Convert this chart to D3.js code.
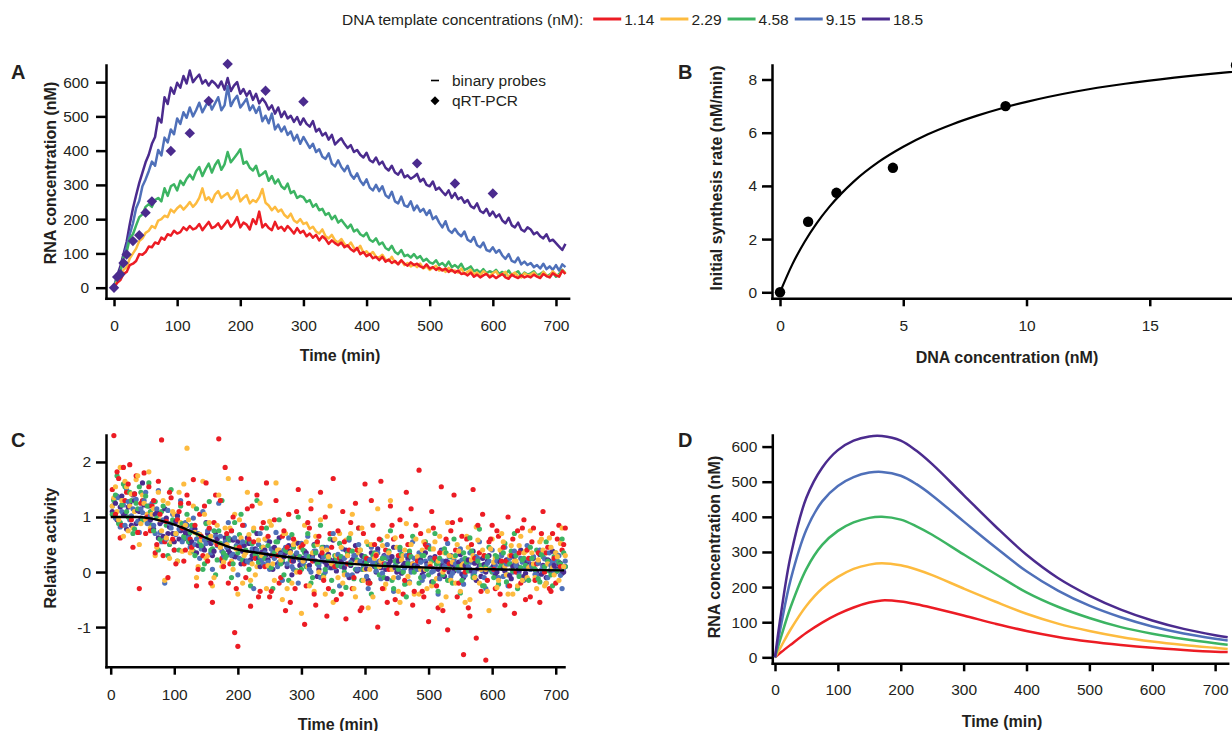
<!DOCTYPE html>
<html>
<head>
<meta charset="utf-8">
<script src="https://cdn.jsdelivr.net/npm/d3@7"></script>
<style>
  body { margin: 0; background: #fff; }
  svg { display: block; font-family: "Liberation Sans", Arial, Helvetica, sans-serif; }
  .axis path, .axis line { stroke: #000; stroke-width: 2.5; }
  .axis path { stroke-linecap: square; }
  .axis text { font-size: 15.5px; fill: #231f20; }
  .title { font-size: 16px; font-weight: bold; fill: #231f20; }
  .plabel { font-size: 20px; font-weight: bold; fill: #231f20; }
  .ltext { font-size: 15.5px; fill: #231f20; }
</style>
</head>
<body>
<svg id="fig" width="1232" height="731"></svg>
<script>
// DNA template concentrations and their colours
const concLabels = ["1.14", "2.29", "4.58", "9.15", "18.5"];
const colors = ["#ec1c24", "#fdbb3f", "#3cb462", "#4f70b9", "#4b2b8e"];

// ---- panel A: binary probe traces, every 5 min ----
const timesA = d3.range(0, 720, 5);
const rnaA_114 = [
  0, 14, 22, 40, 46, 66, 70, 78, 98, 96, 104, 120,
  118, 132, 128, 146, 140, 156, 152, 166, 158, 162, 176, 168,
  180, 170, 174, 186, 168, 180, 192, 174, 178, 188, 172, 184,
  196, 178, 188, 206, 176, 190, 184, 170, 200, 186, 222, 176,
  186, 174, 168, 192, 172, 178, 166, 180, 170, 158, 174, 160,
  166, 150, 158, 146, 154, 138, 150, 142, 128, 138, 130, 124,
  132, 118, 124, 112, 106, 116, 98, 104, 92, 98, 86, 90,
  80, 90, 76, 82, 72, 78, 68, 80, 70, 64, 74, 66,
  70, 62, 58, 68, 56, 60, 52, 58, 50, 56, 46, 52,
  44, 50, 40, 42, 36, 44, 32, 38, 30, 36, 40, 30,
  36, 28, 34, 40, 30, 26, 38, 32, 28, 36, 30, 34,
  30, 38, 32, 28, 40, 34, 30, 42, 36, 32, 50, 40];
const rnaA_229 = [
  0, 18, 30, 52, 60, 86, 100, 114, 136, 144, 160, 166,
  180, 174, 196, 200, 210, 206, 228, 220, 232, 240, 228, 238,
  250, 236, 246, 262, 290, 256, 264, 250, 272, 282, 262, 270,
  276, 258, 266, 284, 252, 262, 270, 246, 256, 250, 264, 288,
  248, 240, 226, 236, 222, 228, 212, 204, 216, 196, 190, 200,
  186, 190, 172, 178, 164, 158, 170, 150, 144, 154, 138, 132,
  142, 128, 120, 132, 116, 110, 122, 102, 106, 96, 104, 90,
  88, 96, 82, 78, 90, 74, 70, 80, 66, 72, 62, 68,
  60, 70, 56, 62, 52, 58, 64, 50, 54, 46, 58, 48,
  50, 44, 56, 40, 46, 52, 38, 44, 36, 48, 40, 34,
  42, 48, 34, 40, 46, 32, 38, 44, 34, 30, 42, 36,
  38, 44, 34, 30, 46, 36, 32, 48, 38, 34, 50, 42];
const rnaA_458 = [
  0, 28, 46, 88, 104, 144, 156, 182, 206, 214, 236, 244,
  236, 256, 262, 252, 290, 268, 296, 302, 284, 312, 300, 318,
  330, 316, 340, 352, 326, 346, 362, 336, 358, 372, 344, 360,
  396, 366, 378, 390, 404, 362, 368, 350, 342, 356, 326, 332,
  340, 312, 326, 304, 316, 296, 288, 304, 276, 282, 262, 268,
  264, 250, 256, 236, 244, 226, 230, 212, 218, 200, 210, 190,
  198, 186, 174, 184, 164, 170, 156, 150, 160, 140, 134, 144,
  126, 132, 116, 110, 122, 104, 98, 110, 92, 96, 88, 98,
  86, 92, 78, 84, 74, 70, 80, 66, 72, 62, 76, 60,
  66, 58, 70, 52, 56, 62, 48, 52, 44, 54, 42, 48,
  44, 52, 40, 46, 38, 50, 36, 42, 48, 34, 44, 38,
  42, 48, 36, 40, 46, 34, 38, 44, 32, 40, 52, 42];
const rnaA_915 = [
  0, 32, 48, 88, 120, 156, 188, 232, 254, 296, 316, 340,
  368, 356, 402, 386, 438, 424, 462, 448, 494, 478, 512, 496,
  526, 500, 518, 540, 512, 530, 546, 520, 538, 556, 518, 532,
  588, 530, 548, 560, 526, 538, 552, 518, 532, 510, 528, 486,
  502, 480, 508, 462, 476, 456, 470, 446, 456, 430, 446, 420,
  440, 424, 408, 420, 396, 404, 382, 376, 392, 362, 354, 372,
  352, 340, 356, 330, 318, 334, 312, 300, 316, 292, 284, 300,
  282, 296, 270, 262, 280, 252, 246, 266, 240, 236, 252, 226,
  240, 222, 230, 212, 226, 200, 208, 190, 176, 194, 168, 160,
  172, 158, 150, 164, 140, 134, 148, 124, 118, 132, 110, 106,
  118, 102, 110, 94, 84, 98, 78, 74, 88, 68, 76, 66,
  72, 60, 66, 56, 70, 54, 62, 52, 66, 50, 68, 60];
const rnaA_185 = [
  0, 36, 62, 98, 134, 186, 232, 270, 306, 336, 366, 388,
  420, 440, 496, 482, 556, 536, 584, 566, 598, 584, 618, 596,
  634, 600, 612, 622, 596, 606, 590, 604, 596, 584, 602, 578,
  612, 574, 590, 600, 566, 580, 560, 574, 548, 566, 538, 552,
  540, 520, 532, 508, 526, 498, 514, 494, 502, 484, 498, 476,
  494, 478, 470, 486, 456, 464, 444, 452, 432, 446, 418, 428,
  436, 420, 408, 416, 396, 402, 388, 380, 394, 372, 366, 380,
  360, 368, 350, 342, 356, 336, 330, 344, 322, 328, 318, 324,
  332, 310, 318, 300, 296, 310, 286, 292, 280, 270, 284, 262,
  276, 258, 264, 248, 256, 238, 232, 246, 224, 218, 230, 210,
  222, 206, 214, 196, 188, 204, 182, 176, 190, 170, 164, 176,
  170, 156, 162, 150, 144, 156, 136, 140, 130, 120, 110, 128];
const seriesA = [rnaA_114, rnaA_229, rnaA_458, rnaA_915, rnaA_185];

// qRT-PCR, 18.5 nM template
const pcrTimes = [0, 5, 10, 15, 20, 30, 40, 50, 60, 90, 120, 150, 180, 240, 300, 480, 540, 600];
const pcrValues = [0, 31, 39, 72, 97, 136, 153, 219, 252, 399, 451, 545, 653, 575, 543, 363, 304, 275];

// ---- panel B: initial rates ----
const dnaConc = [0, 1.14, 2.29, 4.58, 9.15, 18.5];
const synthRate = [0, 2.65, 3.74, 4.68, 7.0, 8.54];
const fitConc = [0, 0.5, 1, 1.5, 2, 3, 4, 5, 6, 7, 8, 9, 10, 12, 14, 16, 18, 19.5];
const fitRate = [0, 1.05, 1.9, 2.61, 3.21, 4.17, 4.9, 5.47, 5.94, 6.32, 6.64, 6.92, 7.16, 7.55, 7.84, 8.07, 8.26, 8.38];

// ---- panel C: relative activity, two interleaved 5-min grids ----
const timesC = d3.range(5, 720, 5);
const timesC2 = d3.range(2.5, 715, 5);
const actC_185 = [
  1.32, 0.95, 1.18, 1.05, 0.78, 1.25, 1.40, 0.88, 1.10, 1.62, 0.98, 1.20,
  0.85, 1.05, 0.62, 0.92, 1.15, 0.70, 0.88, 0.55, 1.02, 0.75, 0.60, 0.85,
  0.52, 0.80, 0.35, 0.68, 0.45, 0.90, 0.58, 0.30, 0.72, 0.48, 0.20, 0.62,
  0.40, 0.75, 0.28, 0.55, 0.15, 0.48, 0.62, 0.22, 0.38, 0.70, 0.10, 0.45,
  0.32, 0.55, 0.05, 0.40, 0.62, 0.18, 0.35, 0.48, -0.05, 0.28, 0.52, 0.15,
  0.38, 0.10, 0.25, 0.50, -0.08, 0.30, 0.45, 0.12, 0.22, 0.58, 0.02, 0.28,
  0.15, 0.40, -0.10, 0.22, 0.48, 0.05, 0.30, 0.18, -0.15, 0.35, 0.10, 0.42,
  0.08, 0.30, -0.12, 0.20, 0.45, 0.00, 0.25, 0.12, -0.20, 0.32, 0.15, 0.05,
  0.22, -0.05, 0.35, 0.10, -0.18, 0.28, 0.05, 0.40, -0.08, 0.18, 0.30, 0.02,
  0.15, 0.32, -0.10, 0.20, 0.05, 0.38, -0.15, 0.12, 0.25, 0.00, 0.30, 0.08,
  -0.05, 0.22, 0.35, 0.02, 0.15, -0.12, 0.28, 0.10, 0.40, -0.08, 0.18, 0.05,
  0.25, 0.00, 0.32, 0.12, -0.10, 0.20, 0.38, 0.05, 0.15, -0.02, 0.10];
const actC_915 = [
  1.05, 1.38, 0.82, 1.22, 1.50, 0.95, 1.15, 1.32, 0.72, 1.08, 1.45, 0.90,
  1.25, 0.70, 1.48, 0.55, -0.20, 1.12, 0.80, 0.40, 0.95, 1.30, 0.62, 0.85,
  0.45, 0.98, 0.60, 0.25, 1.10, 0.52, 0.78, 0.05, 0.65, 1.25, 0.38, 0.55,
  0.90, 0.30, 0.62, -0.05, 0.48, 0.85, 0.20, 0.55, -0.30, 0.40, 0.70, 0.15,
  0.58, 0.05, 0.35, 0.72, 0.18, -0.15, 0.45, 0.62, 0.10, 0.30, -0.20, 0.52,
  0.20, 0.65, 0.00, 0.38, 0.55, -0.10, 0.28, 0.45, 0.08, 0.70, 0.12, -0.25,
  0.42, 0.15, 0.58, -0.05, 0.30, 0.50, 0.05, 0.25, -0.30, 0.45, 0.18, 0.35,
  -0.12, 0.28, 0.50, 0.08, -0.35, 0.22, 0.40, 0.02, 0.30, -0.18, 0.55, 0.12,
  0.35, -0.15, 0.20, 0.48, 0.00, 0.25, -0.40, 0.38, 0.10, 0.52, -0.08, 0.22,
  0.08, 0.42, -0.22, 0.18, 0.35, -0.05, 0.28, 0.55, 0.02, -0.30, 0.20, 0.40,
  0.12, -0.10, 0.30, 0.45, -0.25, 0.15, 0.38, 0.00, 0.25, -0.15, 0.48, 0.05,
  0.28, -0.05, 0.40, 0.10, -0.20, 0.35, 0.18, 0.00, 0.30, -0.30, 0.20];
const actC_458 = [
  1.30, 1.75, 0.90, 1.60, 1.10, 1.45, 0.70, 1.25, 1.55, 0.95, 1.38, 1.62,
  0.85, 1.28, 0.40, 1.10, 0.58, 0.30, 1.50, 0.92, 0.20, 1.20, 0.65, 1.05,
  0.72, 0.38, 1.15, 0.55, 0.05, 0.88, 1.28, 0.42, -0.05, 0.75, 1.30, 0.25,
  0.62, -0.10, 0.90, 0.35, 1.05, 0.18, 0.55, -0.25, 0.75, 1.30, 0.28, 0.45,
  0.80, 0.10, -0.30, 0.55, 0.95, 0.22, 0.40, -0.15, 0.68, 0.30, 1.00, 0.05,
  0.35, 0.70, -0.20, 0.48, 0.15, 0.85, -0.05, 0.30, 0.60, -0.35, 0.25, 0.52,
  0.10, -0.28, 0.62, 0.38, 0.05, 0.80, -0.15, 0.28, 0.50, -0.40, 0.35, 0.15,
  0.58, -0.10, 0.25, 0.75, -0.30, 0.18, 0.45, 0.00, -0.45, 0.38, 0.65, 0.08,
  -0.20, 0.30, 0.55, -0.05, 0.20, 0.70, -0.35, 0.12, 0.42, -0.15, 0.28, 0.60,
  0.05, -0.38, 0.35, 0.18, 0.62, -0.10, 0.25, 0.78, -0.25, 0.10, 0.45, 0.00,
  0.30, -0.22, 0.15, 0.52, -0.05, 0.38, 0.70, -0.30, 0.08, 0.25, -0.12, 0.45,
  0.12, 0.40, -0.18, 0.28, 0.55, 0.02, -0.25, 0.35, 0.18, 0.60, 0.10];
const actC_229 = [
  1.35, 1.10, 1.90, 0.65, 1.55, 1.20, 0.80, 1.68, 0.50, 1.40, 0.95, 1.82,
  1.05, 0.30, 1.45, 0.75, -0.15, 1.25, 0.55, 1.05, 0.20, 0.90, 1.60, 2.25,
  0.35, 1.20, -0.10, 0.68, 1.65, 0.25, 0.90, -0.25, 0.55, 1.40, 0.10, 0.80,
  1.70, 0.20, 1.05, -0.40, 0.62, 0.30, 1.45, -0.15, 0.80, 0.10, 1.25, 0.45,
  -0.30, 0.92, 0.15, 1.62, 0.40, -0.50, 0.70, 1.05, -0.20, 0.55, 0.25, -0.75,
  0.85, 0.10, 1.30, -0.35, 0.50, 0.95, -0.10, 0.40, 1.20, -0.55, 0.30, 0.70,
  -0.20, 0.58, 0.15, 1.05, -0.45, 0.35, 0.80, 0.05, -0.65, 0.50, 0.25, 1.15,
  0.20, -0.30, 0.65, 1.30, -0.10, 0.45, -0.55, 0.30, 0.88, -0.20, 0.15, 0.60,
  -0.40, 0.40, 0.05, 0.75, -0.25, 0.55, 0.20, -0.60, 0.35, 0.90, -0.15, 0.28,
  0.50, -0.35, 0.15, 0.65, -0.50, 0.30, 0.82, -0.20, 0.40, 0.05, -0.70, 0.60,
  0.25, -0.15, 0.70, 0.10, -0.40, 0.48, 0.20, -0.25, 0.65, 0.35, -0.10, 0.75,
  0.15, -0.30, 0.55, 0.40, -0.20, 0.62, 0.08, 0.35, -0.15, 0.80, 0.30];
const actC_114 = [
  2.48, 1.82, 0.62, 1.90, 1.45, 1.95, 0.45, 1.75, -0.30, 1.30, 0.70, 1.55,
  1.20, 0.35, 1.65, 2.40, 0.55, -0.10, 1.35, 0.40, 0.95, 1.25, 0.20, 1.40,
  0.60, 1.68, -0.25, 1.05, 0.30, 1.62, 0.80, -0.55, 1.40, 2.42, 0.25, 1.90,
  -0.20, 0.75, -1.10, -1.35, 1.70, 0.15, 1.15, -0.62, 0.55, 1.40, -0.35, 0.90,
  1.62, -0.45, 0.30, 1.30, -0.20, 0.65, -0.70, 1.05, 0.20, -0.30, 1.50, 0.45,
  -0.95, 0.90, 1.15, -0.40, 0.55, 1.45, -0.15, -0.80, 0.70, 1.70, -0.50, 0.25,
  1.10, -0.85, 0.40, -0.30, 1.25, 0.80, -0.65, 1.60, -0.20, 1.30, 0.50, -1.00,
  1.65, 0.15, -0.55, 1.20, 0.60, -0.75, 0.95, -0.40, 1.45, 0.30, -0.60, 0.85,
  1.85, -0.35, 0.50, -0.90, 1.10, 0.25, -0.65, 1.55, 0.05, -1.05, 0.75, 1.40,
  -0.45, 0.95, -1.50, 0.60, -0.80, 1.50, -1.20, 0.35, 1.05, -1.60, 0.55, 0.85,
  -0.30, 0.65, 0.20, -0.60, 1.00, 0.30, -0.75, 0.75, -0.20, 0.95, 0.40, -0.45,
  0.80, 0.15, -0.55, 1.10, 0.35, -0.30, 0.70, -0.20, 0.85, 0.40, 0.80];
const actC2_185 = [
  1.10, 1.25, 0.92, 1.38, 1.05, 1.18, 0.85, 1.30, 1.12, 0.98, 1.22, 1.05,
  0.95, 0.78, 1.08, 0.88, 0.65, 0.98, 0.82, 0.70, 0.92, 0.60, 0.80, 0.72,
  0.68, 0.55, 0.78, 0.48, 0.62, 0.40, 0.70, 0.52, 0.38, 0.60, 0.45, 0.32,
  0.50, 0.35, 0.58, 0.28, 0.45, 0.38, 0.20, 0.52, 0.30, 0.42, 0.25, 0.36,
  0.40, 0.22, 0.30, 0.45, 0.15, 0.35, 0.28, 0.10, 0.38, 0.20, 0.32, 0.12,
  0.25, 0.35, 0.12, 0.30, 0.20, 0.05, 0.28, 0.18, 0.32, 0.08, 0.22, 0.15,
  0.20, 0.08, 0.30, 0.12, 0.25, 0.02, 0.18, 0.28, 0.06, 0.22, 0.14, 0.00,
  0.18, 0.25, 0.05, 0.15, 0.28, 0.08, 0.20, -0.02, 0.16, 0.24, 0.04, 0.12,
  0.10, 0.22, 0.02, 0.15, 0.26, 0.06, 0.18, -0.05, 0.12, 0.20, 0.00, 0.14,
  0.08, 0.18, -0.04, 0.12, 0.22, 0.02, 0.16, 0.06, -0.08, 0.14, 0.20, 0.04,
  0.12, 0.00, 0.18, 0.06, 0.22, -0.06, 0.10, 0.16, 0.02, 0.20, -0.02, 0.08,
  0.14, 0.04, 0.18, -0.04, 0.10, 0.22, 0.02, 0.12, 0.06, 0.16, 0.00];
const actC2_915 = [
  1.20, 0.98, 1.35, 1.10, 0.85, 1.28, 1.02, 1.42, 0.92, 1.15, 1.30, 0.88,
  1.02, 0.85, 1.15, 0.72, 0.95, 0.60, 0.88, 1.05, 0.68, 0.78, 0.55, 0.90,
  0.62, 0.78, 0.50, 0.70, 0.42, 0.58, 0.75, 0.35, 0.55, 0.48, 0.65, 0.30,
  0.45, 0.60, 0.32, 0.48, 0.25, 0.55, 0.38, 0.18, 0.42, 0.30, 0.50, 0.22,
  0.35, 0.18, 0.42, 0.25, 0.10, 0.32, 0.40, 0.15, 0.28, 0.05, 0.35, 0.22,
  0.15, 0.30, 0.05, 0.25, 0.38, 0.12, 0.20, 0.00, 0.28, 0.18, 0.08, 0.32,
  0.10, 0.25, -0.05, 0.18, 0.30, 0.05, 0.20, 0.12, -0.08, 0.22, 0.15, 0.02,
  0.20, -0.02, 0.15, 0.28, 0.06, 0.12, -0.10, 0.22, 0.08, 0.18, 0.00, 0.25,
  0.05, 0.18, -0.08, 0.12, 0.24, 0.02, 0.15, -0.12, 0.20, 0.08, 0.28, -0.02,
  0.15, 0.02, 0.22, -0.06, 0.10, 0.18, 0.00, 0.25, 0.08, -0.10, 0.16, 0.06,
  0.02, 0.20, 0.08, -0.08, 0.15, 0.25, 0.00, 0.12, -0.05, 0.18, 0.06, 0.22,
  0.10, -0.04, 0.16, 0.04, 0.24, -0.10, 0.12, 0.02, 0.20, -0.06, 0.08];
const actC2_458 = [
  1.05, 1.40, 0.88, 1.22, 1.55, 1.00, 1.30, 0.78, 1.15, 1.45, 0.95, 1.20,
  1.10, 0.75, 0.98, 0.60, 1.20, 0.85, 0.50, 0.95, 0.70, 0.40, 0.88, 0.62,
  0.55, 0.85, 0.30, 0.68, 0.48, 0.15, 0.62, 0.40, 0.75, 0.22, 0.52, 0.35,
  0.30, 0.58, 0.15, 0.45, 0.68, 0.22, 0.40, 0.05, 0.52, 0.32, 0.18, 0.45,
  0.25, 0.48, 0.08, 0.35, 0.55, 0.15, -0.05, 0.38, 0.22, 0.45, 0.02, 0.28,
  0.40, 0.10, 0.28, -0.10, 0.35, 0.18, 0.45, 0.05, 0.22, -0.15, 0.30, 0.12,
  0.28, 0.00, 0.35, 0.15, -0.12, 0.22, 0.40, 0.05, 0.18, -0.20, 0.30, 0.10,
  -0.05, 0.25, 0.12, 0.38, -0.15, 0.20, 0.05, 0.32, -0.22, 0.15, 0.28, 0.00,
  0.22, -0.10, 0.30, 0.05, 0.42, -0.18, 0.15, 0.25, -0.05, 0.35, 0.08, -0.20,
  0.30, 0.10, -0.15, 0.25, 0.02, 0.38, -0.08, 0.20, 0.12, -0.25, 0.28, 0.05,
  -0.10, 0.28, 0.08, 0.35, -0.18, 0.15, 0.02, 0.30, -0.08, 0.22, 0.12, -0.15,
  0.25, 0.05, -0.12, 0.32, 0.10, 0.20, -0.05, 0.28, 0.02, 0.15, 0.35];
const actC2_229 = [
  1.20, 1.55, 0.95, 1.30, 1.65, 0.75, 1.42, 1.10, 1.75, 0.88, 1.25, 1.05,
  0.80, 1.15, 0.45, 0.95, 1.30, 0.62, 0.25, 1.10, 0.70, 1.45, 0.38, 0.85,
  0.95, 0.40, 0.72, 0.10, 0.58, 1.05, 0.30, 0.65, -0.10, 0.85, 0.45, 0.18,
  0.50, 0.80, 0.05, 0.42, 0.95, -0.20, 0.35, 0.68, 0.15, -0.05, 0.58, 0.30,
  0.60, 0.12, 0.85, -0.15, 0.40, 0.22, 0.70, -0.30, 0.35, 0.50, 0.00, 0.45,
  0.20, 0.55, -0.25, 0.35, 0.65, 0.00, 0.42, -0.40, 0.28, 0.15, 0.60, -0.10,
  0.45, -0.05, 0.30, 0.70, -0.30, 0.18, 0.40, -0.15, 0.55, 0.05, -0.45, 0.32,
  0.10, 0.48, -0.22, 0.35, 0.05, 0.62, -0.35, 0.22, 0.40, -0.08, 0.50, -0.40,
  0.28, 0.05, 0.55, -0.30, 0.15, 0.42, -0.12, 0.65, 0.00, -0.45, 0.30, 0.18,
  -0.20, 0.38, 0.12, -0.55, 0.45, 0.22, -0.10, 0.58, 0.05, 0.30, -0.35, 0.42,
  0.18, -0.28, 0.40, 0.55, -0.05, 0.30, -0.40, 0.20, 0.48, -0.15, 0.38, 0.08,
  0.35, -0.10, 0.22, 0.60, -0.25, 0.15, 0.45, -0.05, 0.28, 0.52, 0.10];
const actC2_114 = [
  1.50, 1.05, 1.70, 0.85, 1.30, 1.60, 0.95, 1.42, 0.72, 1.25, 1.80, 1.00,
  0.75, 1.30, 0.50, 1.05, 0.30, 0.92, 1.45, 0.60, 0.15, 1.10, 0.80, 0.40,
  1.25, 0.45, 0.85, 0.05, 0.65, 1.20, 0.20, -0.20, 0.90, 0.50, 1.30, 0.10,
  0.70, 0.15, 1.00, -0.30, 0.45, 0.85, -0.10, 0.60, 1.20, 0.25, -0.45, 0.80,
  0.10, 0.65, -0.35, 0.95, 0.30, -0.10, 0.75, 0.45, -0.55, 0.60, 1.10, 0.00,
  0.50, -0.25, 0.80, 0.20, -0.60, 0.65, 0.35, 1.00, -0.30, 0.45, 0.10, 0.75,
  -0.40, 0.55, 0.15, 0.90, -0.10, 0.40, -0.70, 0.70, 0.25, -0.20, 0.85, 0.30,
  0.60, -0.30, 0.40, 0.05, 0.85, -0.50, 0.30, 0.65, -0.15, 0.50, 1.15, -0.35,
  0.20, 0.70, -0.45, 0.45, 0.10, 0.80, -0.25, 0.35, -0.70, 0.60, 0.15, 0.90,
  0.40, -0.20, 0.65, 0.00, -0.65, 0.50, 0.25, 0.85, -0.35, 0.30, -0.15, 0.60,
  0.05, 0.75, -0.40, 0.45, 0.20, -0.25, 0.60, 0.00, 0.35, 0.80, -0.50, 0.25,
  0.55, -0.15, 0.35, 0.70, 0.00, 0.45, -0.35, 0.25, 0.60, 0.10, 0.50];
const seriesC = [actC_114, actC_229, actC_458, actC_915, actC_185];
const seriesC2 = [actC2_114, actC2_229, actC2_458, actC2_915, actC2_185];
const trendTimes = [0, 40, 60, 80, 100, 120, 140, 160, 180, 200, 230, 260, 300, 350, 400, 450, 500, 550, 600, 650, 713];
const trendValues = [1.0, 1.0, 0.98, 0.93, 0.86, 0.77, 0.67, 0.57, 0.48, 0.41, 0.35, 0.3, 0.24, 0.18, 0.13, 0.1, 0.08, 0.06, 0.05, 0.04, 0.03];

// ---- panel D: model curves ----
const timesD = [0, 10, 25, 50, 75, 100, 125, 150, 170, 200, 225, 250, 300, 350, 400, 450, 500, 550, 600, 650, 700, 720];
const modelD_114 = [0, 15, 36, 70, 99, 123, 142, 156, 162, 159, 151, 141, 119, 96, 75, 58, 45, 35, 27, 21, 16, 15];
const modelD_229 = [0, 32, 80, 147, 196, 229, 252, 264, 268, 262, 250, 234, 196, 159, 124, 96, 75, 58, 45, 35, 27, 24];
const modelD_458 = [0, 60, 144, 252, 320, 360, 384, 397, 400, 392, 373, 349, 293, 238, 185, 144, 112, 86, 67, 52, 40, 36];
const modelD_915 = [0, 95, 222, 364, 444, 488, 513, 526, 528, 517, 493, 461, 387, 314, 245, 190, 147, 114, 88, 68, 53, 48];
const modelD_185 = [0, 130, 290, 455, 540, 590, 617, 629, 630, 617, 588, 550, 462, 374, 292, 226, 176, 136, 105, 81, 63, 57];
const seriesD = [modelD_114, modelD_229, modelD_458, modelD_915, modelD_185];

const svg = d3.select("#fig");
const plain = d => String(d);

function drawAxes(x, y, xt, yt, ypad, xpad) {
  svg.append("g").attr("class", "axis")
    .attr("transform", `translate(0,${y.range()[0]})`)
    .call(d3.axisBottom(x).tickValues(xt).tickSize(8).tickSizeOuter(0).tickPadding(xpad).tickFormat(plain));
  svg.append("g").attr("class", "axis")
    .attr("transform", `translate(${x.range()[0]},0)`)
    .call(d3.axisLeft(y).tickValues(yt).tickSize(10).tickSizeOuter(0).tickPadding(ypad).tickFormat(plain));
}

function yTitle(text, bx, cy) {
  svg.append("text").attr("class", "title")
    .attr("transform", `translate(${bx},${cy}) rotate(-90)`)
    .attr("text-anchor", "middle").text(text);
}
function xTitle(text, cx, by) {
  svg.append("text").attr("class", "title")
    .attr("x", cx).attr("y", by).attr("text-anchor", "middle").text(text);
}
function panelLabel(text, px, by) {
  svg.append("text").attr("class", "plabel").attr("x", px).attr("y", by).text(text);
}

// ---- top legend ----
const head = svg.append("text").attr("class", "ltext").attr("x", 342).attr("y", 25)
  .text("DNA template concentrations (nM):");
let cursor = 342 + head.node().getComputedTextLength() + 10;
concLabels.forEach((lab, i) => {
  svg.append("line").attr("x1", cursor).attr("x2", cursor + 28).attr("y1", 19).attr("y2", 19)
    .attr("stroke", colors[i]).attr("stroke-width", 3);
  const t = svg.append("text").attr("class", "ltext").attr("x", cursor + 31).attr("y", 25).text(lab);
  cursor += 31 + t.node().getComputedTextLength() + 6;
});

// ---- panel A ----
const xA = d3.scaleLinear().domain([-12.7, 720]).range([106, 568.6]);
const yA = d3.scaleLinear().domain([-31, 650]).range([298.3, 65]);
drawAxes(xA, yA, d3.range(0, 701, 100), d3.range(0, 601, 100), 7, 14);
const lineA = d3.line().x((d, i) => xA(timesA[i])).y(d => yA(d));
[4, 3, 2, 1, 0].forEach(i => {
  svg.append("path").datum(seriesA[i]).attr("d", lineA)
    .attr("fill", "none").attr("stroke", colors[i]).attr("stroke-width", 2.5)
    .attr("stroke-linejoin", "round");
});
const diamond = d3.symbol().type(d3.symbolSquare).size(54);
svg.append("g").selectAll("path").data(pcrValues).join("path")
  .attr("d", diamond)
  .attr("transform", (d, i) => `translate(${xA(pcrTimes[i])},${yA(d)}) rotate(45)`)
  .attr("fill", colors[4]);
// inner legend
svg.append("line").attr("x1", 431).attr("x2", 439).attr("y1", 80.5).attr("y2", 80.5)
  .attr("stroke", "#000").attr("stroke-width", 1.6);
svg.append("text").attr("class", "ltext").attr("x", 452).attr("y", 86).text("binary probes");
svg.append("path").attr("d", d3.symbol().type(d3.symbolSquare).size(40))
  .attr("transform", "translate(435,100.7) rotate(45)").attr("fill", "#000");
svg.append("text").attr("class", "ltext").attr("x", 452).attr("y", 106).text("qRT-PCR");
panelLabel("A", 11, 79);
yTitle("RNA concentration (nM)", 55.5, 173);
xTitle("Time (min)", 340, 361);

// ---- panel B ----
const xB = d3.scaleLinear().domain([-0.325, 19.5]).range([772, 772 + 19.825 * 24.65]);
const yB = d3.scaleLinear().domain([-0.226, 8.545]).range([298.3, 65]);
drawAxes(xB, yB, [0, 5, 10, 15], [0, 2, 4, 6, 8], 5, 14);
svg.append("path").datum(fitRate)
  .attr("d", d3.line().x((d, i) => xB(fitConc[i])).y(d => yB(d)).curve(d3.curveMonotoneX))
  .attr("fill", "none").attr("stroke", "#000").attr("stroke-width", 2.2);
svg.append("g").selectAll("circle").data(synthRate).join("circle")
  .attr("cx", (d, i) => xB(dnaConc[i])).attr("cy", d => yB(d)).attr("r", 5.2).attr("fill", "#000");
panelLabel("B", 678, 79);
yTitle("Initial synthesis rate (nM/min)", 721.5, 178);
xTitle("DNA concentration (nM)", 1007, 363);

// ---- panel C ----
const xC = d3.scaleLinear().domain([-7.4, 713]).range([106, 564]);
const yC = d3.scaleLinear().domain([-1.72, 2.49]).range([666.7, 435]);
drawAxes(xC, yC, d3.range(0, 701, 100), [-1, 0, 1, 2], 5, 14);
// interleave colours in time so no series sits entirely on top
const dotsC = [];
timesC.forEach((t, j) => {
  [4, 3, 2, 1, 0].forEach(i => {
    if (j < seriesC2[i].length) dotsC.push({ t: timesC2[j], v: seriesC2[i][j], c: colors[i] });
    if (j < seriesC[i].length) dotsC.push({ t: t, v: seriesC[i][j], c: colors[i] });
  });
});
svg.append("g").selectAll("circle").data(dotsC).join("circle")
  .attr("cx", d => xC(d.t)).attr("cy", d => yC(d.v))
  .attr("r", 2.6).attr("fill", d => d.c);
svg.append("path").datum(trendValues)
  .attr("d", d3.line().x((d, i) => xC(trendTimes[i])).y(d => yC(d)).curve(d3.curveMonotoneX))
  .attr("fill", "none").attr("stroke", "#000").attr("stroke-width", 2.4);
panelLabel("C", 11, 447);
yTitle("Relative activity", 55.5, 548);
xTitle("Time (min)", 338, 730);

// ---- panel D ----
const xD = d3.scaleLinear().domain([-4.3, 720]).range([772.3, 1227.7]);
const yD = d3.scaleLinear().domain([-17, 633]).range([663.3, 435]);
drawAxes(xD, yD, d3.range(0, 701, 100), d3.range(0, 601, 100), 5, 13);
const lineD = d3.line().x((d, i) => xD(timesD[i])).y(d => yD(d)).curve(d3.curveCatmullRom.alpha(0.5));
seriesD.forEach((s, i) => {
  svg.append("path").datum(s).attr("d", lineD)
    .attr("fill", "none").attr("stroke", colors[i]).attr("stroke-width", 2.5);
});
panelLabel("D", 678, 447);
yTitle("RNA concentration (nM)", 720, 547);
xTitle("Time (min)", 1002, 727);
</script>
</body>
</html>
